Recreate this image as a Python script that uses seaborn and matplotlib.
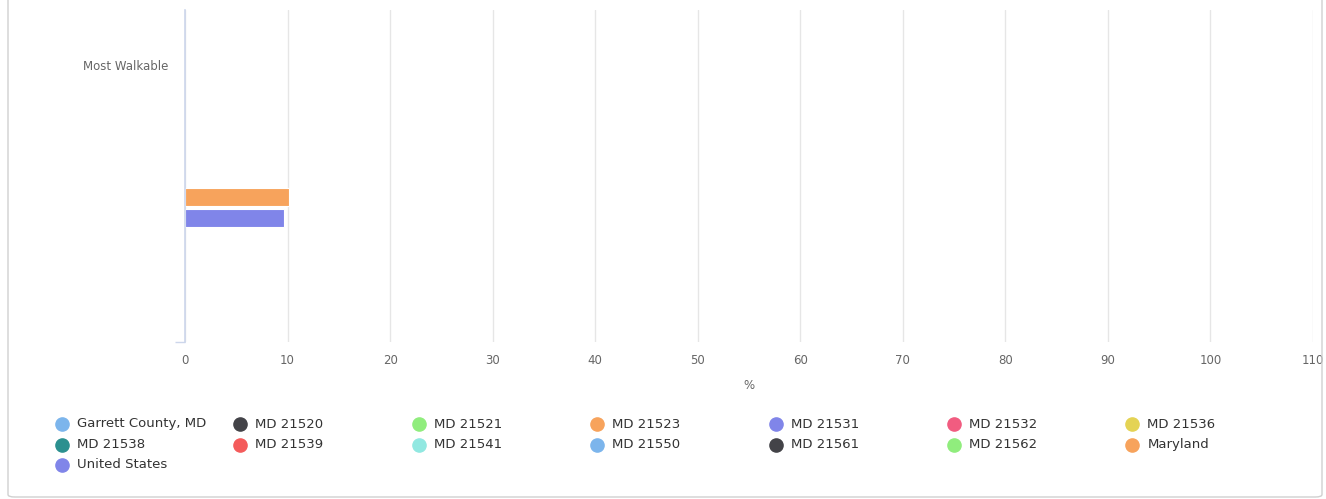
import pandas as pd
import matplotlib
matplotlib.use("Agg")
import matplotlib.pyplot as plt
from matplotlib.lines import Line2D
from matplotlib.patches import FancyBboxPatch
import seaborn as sns

# categories on the bar axis (only the first one carries a label)
categories = ["Most Walkable", "cat_2", "cat_3"]
category_labels = ["Most Walkable", "", ""]

# all series shown in the legend, with their colours
series = ["Garrett County, MD", "MD 21520", "MD 21521", "MD 21523", "MD 21531",
          "MD 21532", "MD 21536", "MD 21538", "MD 21539", "MD 21541",
          "MD 21550", "MD 21561", "MD 21562", "Maryland", "United States"]
colors = ["#7cb5ec", "#434348", "#90ed7d", "#f7a35c", "#8085e9",
          "#f15c80", "#e4d354", "#2b908f", "#f45b5b", "#91e8e1",
          "#7cb5ec", "#434348", "#90ed7d", "#f7a35c", "#8085e9"]

# only Maryland and the US have a value (in the second category)
maryland_pct = 10.1
us_pct = 9.7
bar_category = "cat_2"

x_ticks = [0, 10, 20, 30, 40, 50, 60, 70, 80, 90, 100, 110]

df = pd.DataFrame({
    "category": [bar_category, bar_category],
    "series": ["Maryland", "United States"],
    "pct": [maryland_pct, us_pct],
})
palette = dict(zip(series, colors))
# slot order within a category group (empty slots keep the spacing)
slot_order = ["Garrett County, MD", "MD 21520", "MD 21521", "Maryland", "United States"]

sns.set_theme(style="white")
plt.rcParams["font.family"] = ["DejaVu Sans"]

W, H = 1326, 499
fig = plt.figure(figsize=(W / 100, H / 100), dpi=100)
ax = fig.add_axes([185 / W, 1 - 342 / H, (1313 - 185) / W, (342 - 10) / H])

sns.barplot(data=df, y="category", x="pct", hue="series", order=categories,
            hue_order=slot_order, palette=palette, width=0.95, gap=0.12,
            orient="h", legend=False, edgecolor="white", linewidth=0.8,
            saturation=1, ax=ax)

ax.set_xlim(0, 110)
ax.set_ylim(2.5, -0.5)
ax.set_xticks(x_ticks)
ax.set_xticklabels([str(t) for t in x_ticks], color="#666666", fontsize=8.5)
ax.set_yticks(range(len(categories)))
ax.set_yticklabels(category_labels, color="#666666", fontsize=8.5)
ax.tick_params(axis="y", length=0, pad=12)
ax.tick_params(axis="x", length=0, pad=9)
ax.set_yticks([2.5], minor=True)
ax.tick_params(axis="y", which="minor", left=True, length=7.5,
               color="#ccd6eb", width=1)
ax.grid(axis="x", color="#e6e6e6", linewidth=1)
ax.set_axisbelow(True)
ax.set_ylabel("")
ax.set_xlabel("%", color="#666666", fontsize=8.5, labelpad=8)
for side in ["top", "right", "bottom"]:
    ax.spines[side].set_visible(False)
ax.spines["left"].set_color("#ccd6eb")
ax.spines["left"].set_linewidth(1.2)

# legend laid out like the original: 7 items per row
for i, name in enumerate(series):
    col, row = i % 7, i // 7
    px = 62 + col * 178.4
    py = 424 + row * 20.5
    fig.add_artist(Line2D([px / W], [1 - py / H], marker="o", markersize=9.5,
                          color=palette[name], transform=fig.transFigure))
    fig.text((px + 15) / W, 1 - py / H, name, fontsize=9.5, color="#333333",
             va="center", ha="left")

# outer frame
frame = FancyBboxPatch((8 / W, 2 / H), (1322 - 8) / W, 1.2,
                       boxstyle="round,pad=0,rounding_size=0.005",
                       transform=fig.transFigure, fill=False,
                       edgecolor="#d0d0d0", linewidth=1, clip_on=False)
fig.add_artist(frame)

fig.savefig("out.png", dpi=100)
